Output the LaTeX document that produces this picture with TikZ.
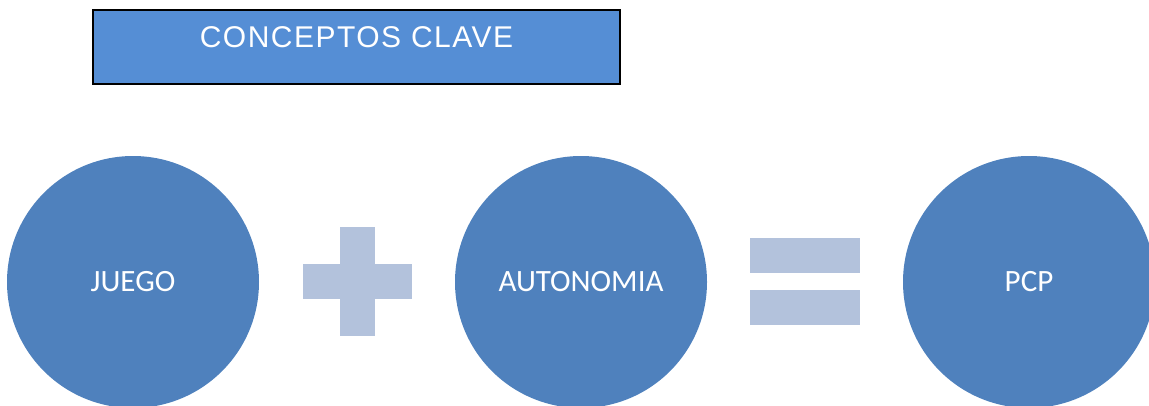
\documentclass[tikz,border=0pt]{standalone}
\usepackage{fontspec}
\setmainfont{Carlito}
\newfontfamily\titlefont[LetterSpace=5]{Liberation Sans}
\definecolor{circblue}{HTML}{4F81BD}
\definecolor{titleblue}{HTML}{558ED5}
\definecolor{oplight}{HTML}{B3C2DC}
\tikzset{
  concept/.style={circle, fill=circblue, draw=none, minimum size=252pt, inner sep=0pt,
    text=white, font=\fontsize{31}{36}\selectfont},
  opshape/.style={fill=oplight, draw=none},
  titlebox/.style={rectangle, fill=titleblue, draw=black, line width=1.2pt,
    minimum width=527pt, minimum height=74pt, inner sep=0pt}
}
\begin{document}
\begin{tikzpicture}[x=1pt,y=-1pt]
\useasboundingbox (0,0) rectangle (1149,405);
\clip (0,0) rectangle (1149,405);
% title
\node[titlebox] (title) at (356.5,47) {};
\node[text=white, font=\titlefont\fontsize{30}{34}\selectfont] (titletext) at (356.5,37.5) {CONCEPTOS CLAVE};
% circles
\node[concept] (juego) at (133,282) {JUEGO};
\node[concept] (auto) at (581,282) {AUTONOMIA};
\node[concept] (pcp) at (1029,282) {PCP};
% plus
\fill[opshape] (340,227) rectangle (375,336);
\fill[opshape] (303,264) rectangle (412,299);
% equals
\fill[opshape] (750,238) rectangle (860,273);
\fill[opshape] (750,290) rectangle (860,325);
\end{tikzpicture}
\end{document}
